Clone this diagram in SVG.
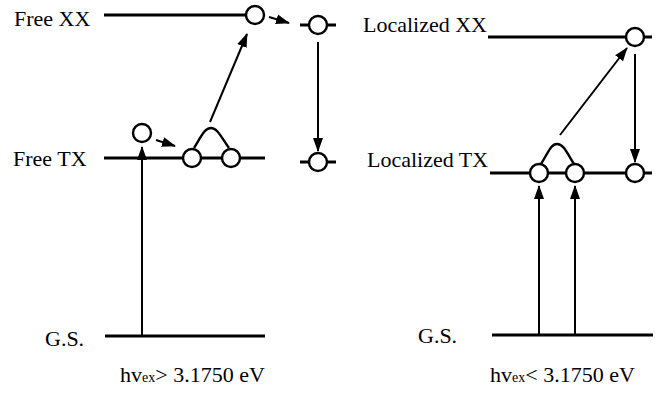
<svg xmlns="http://www.w3.org/2000/svg" width="663" height="394" viewBox="0 0 663 394">
<style>
.lvl{stroke:#000;stroke-width:3;fill:none}
.arr{stroke:#000;stroke-width:2;fill:none;marker-end:url(#ah)}
.st{fill:#fff;stroke:#000;stroke-width:2.4}
.arc{fill:none;stroke:#000;stroke-width:2.4}
.t{font-size:22px;fill:#000}
.sub{font-size:14px}
</style>
<defs>
<marker id="ah" markerUnits="userSpaceOnUse" markerWidth="14" markerHeight="11" refX="13" refY="5" orient="auto" viewBox="0 0 14 10">
<path d="M0,0 L14,5 L0,10 z" fill="#000"/>
</marker>
</defs>
<rect width="663" height="394" fill="#fff"/>
<g id="levels">
<line class="lvl" x1="104" y1="15" x2="246" y2="15"/>
<line class="lvl" x1="300" y1="25" x2="336" y2="25"/>
<line class="lvl" x1="300" y1="162" x2="336" y2="162"/>
<line class="lvl" x1="104" y1="158" x2="265" y2="158"/>
<line class="lvl" x1="105" y1="336" x2="265" y2="336"/>
<line class="lvl" x1="488" y1="37" x2="652" y2="37"/>
<line class="lvl" x1="490" y1="173" x2="652" y2="173"/>
<line class="lvl" x1="492" y1="335" x2="653" y2="335"/>
</g>
<g id="connectors">
<line class="arr" x1="269" y1="17" x2="289" y2="23"/>
<line class="arr" x1="318" y1="42" x2="318" y2="151"/>
<line class="arr" x1="210" y1="122" x2="247" y2="34"/>
<line class="arr" x1="156" y1="140" x2="175" y2="146"/>
<line class="arr" x1="142" y1="336" x2="142" y2="147"/>
<line class="arr" x1="560" y1="135" x2="627" y2="48"/>
<line class="arr" x1="635" y1="54" x2="635" y2="162"/>
<line class="arr" x1="539" y1="335" x2="539" y2="186"/>
<line class="arr" x1="575" y1="335" x2="575" y2="186"/>
<path class="arc" d="M194,148 C202,135 205,128 211,128 C217,128 220,135 229,148"/>
<path class="arc" d="M541,164 C549,151 551,144 557,144 C563,144 566,151 574,164"/>
</g>
<g id="states">
<circle class="st" cx="255" cy="15" r="9"/>
<circle class="st" cx="318" cy="25" r="9"/>
<circle class="st" cx="318" cy="162" r="9"/>
<circle class="st" cx="142" cy="133" r="9"/>
<circle class="st" cx="192" cy="158" r="9"/>
<circle class="st" cx="231" cy="158" r="9"/>
<circle class="st" cx="635" cy="37" r="9"/>
<circle class="st" cx="539" cy="173" r="9"/>
<circle class="st" cx="575" cy="173" r="9"/>
<circle class="st" cx="635" cy="173" r="9"/>
</g>
<g id="labels" font-family="Liberation Serif, DejaVu Serif, serif">
<text class="t" x="14" y="26">Free XX</text>
<text class="t" x="13" y="166">Free TX</text>
<text class="t" x="45" y="346">G.S.</text>
<text class="t" x="120" y="382">hv<tspan class="sub">ex</tspan>&gt; 3.1750 eV</text>
<text class="t" x="363" y="32">Localized XX</text>
<text class="t" x="367" y="167">Localized TX</text>
<text class="t" x="418" y="343">G.S.</text>
<text class="t" x="490" y="382">hv<tspan class="sub">ex</tspan>&lt; 3.1750 eV</text>
</g>
</svg>
